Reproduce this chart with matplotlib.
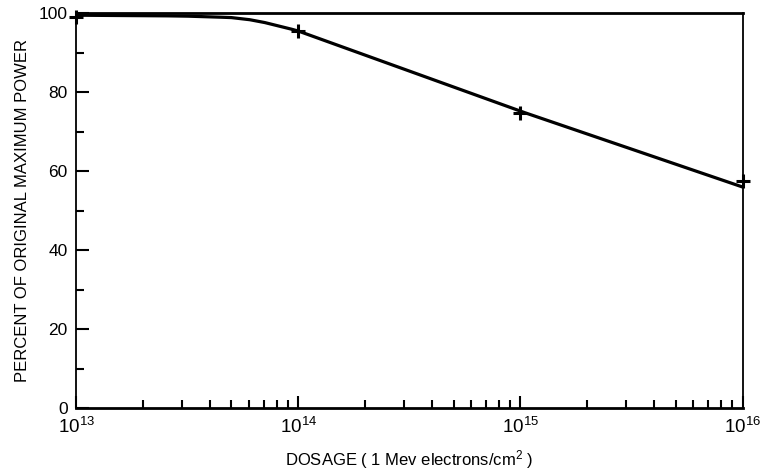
import numpy as np
import matplotlib
matplotlib.use("Agg")
import matplotlib.pyplot as plt
from matplotlib.ticker import LogLocator, FixedLocator, NullFormatter

plt.rcParams['font.family'] = ['Liberation Sans', 'DejaVu Sans']
plt.rcParams['mathtext.default'] = 'regular'

# curve
curve_dose = [1e13, 2e13, 3e13, 4e13, 5e13, 6e13, 7e13, 8e13, 9e13, 1e14, 1e15, 1e16]
curve_power = [99.5, 99.4, 99.3, 99.1, 98.9, 98.4, 97.7, 96.9, 96.2, 95.5, 75.2, 56.0]

# measured points (the "+" marks)
point_dose = [1e13, 1e14, 1e15, 1e16]
point_power = [99.0, 95.5, 74.8, 57.5]

x_ticks = [1e13, 1e14, 1e15, 1e16]
x_labels = ['$10^{13}$', '$10^{14}$', '$10^{15}$', '$10^{16}$']
y_ticks = [0, 20, 40, 60, 80, 100]

fig = plt.figure(figsize=(7.76, 4.73), dpi=100)
ax = fig.add_axes([0.098, 0.137, 0.859, 0.835])

# smooth the knee a bit by interpolating in log space
lx = np.log10(curve_dose)
fine = np.linspace(lx[0], lx[-1], 400)
ax.plot(10 ** fine, np.interp(fine, lx, curve_power), color='black', lw=2.3, solid_capstyle='butt')
ax.plot(point_dose, point_power, linestyle='none', marker='+', color='black',
        markersize=10, markeredgewidth=2.2, clip_on=False)

ax.set_xscale('log')
ax.set_xlim(1e13, 1e16)
ax.set_ylim(0, 100)
ax.set_xticks(x_ticks)
ax.set_xticklabels(x_labels, fontsize=13.5)
ax.xaxis.set_minor_locator(LogLocator(base=10, subs=np.arange(2, 10)))
ax.xaxis.set_minor_formatter(NullFormatter())
ax.set_yticks(y_ticks)
ax.set_yticklabels([str(v) for v in y_ticks], fontsize=12.5)
ax.yaxis.set_minor_locator(FixedLocator([10, 30, 50, 70, 90]))

ax.tick_params(axis='both', which='major', direction='in', length=9, width=1.5, pad=6)
ax.tick_params(axis='both', which='minor', direction='in', length=6, width=1.5)
ax.tick_params(top=False, right=False, which='both')

ax.spines['top'].set_linewidth(2)
ax.spines['bottom'].set_linewidth(2)
ax.spines['left'].set_linewidth(1.3)
ax.spines['right'].set_linewidth(1.3)

ax.set_xlabel('DOSAGE ( 1 Mev electrons/cm$^2$ )', fontsize=12, labelpad=8)
ax.set_ylabel('PERCENT OF ORIGINAL MAXIMUM POWER', fontsize=12, labelpad=6)

fig.savefig('out.png', dpi=100)
